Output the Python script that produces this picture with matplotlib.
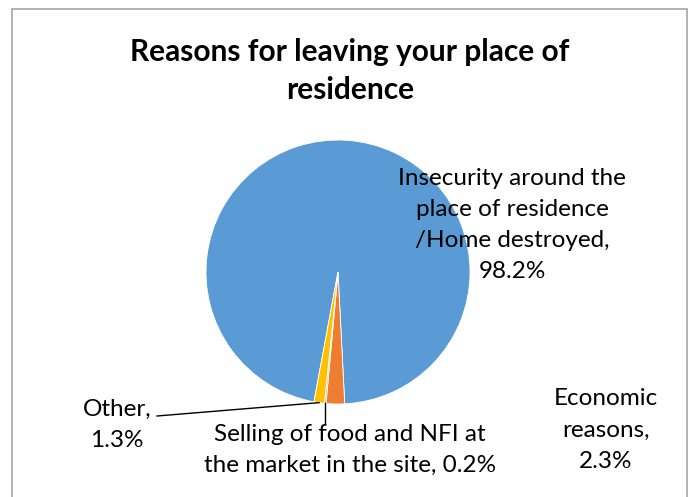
import numpy as np
import matplotlib.pyplot as plt
from matplotlib.patches import Rectangle

plt.rcParams['font.family'] = ['Lato', 'DejaVu Sans']

labels = ['Insecurity around the\nplace of residence\n/Home destroyed,\n98.2%',
          'Economic\nreasons,\n2.3%',
          'Selling of food and NFI at\nthe market in the site, 0.2%',
          'Other,\n1.3%']
values = [98.2, 2.3, 0.2, 1.3]
colors = ['#5B9BD5', '#ED7D31', '#A5A5A5', '#FFC000']

W, H = 689, 497
fig = plt.figure(figsize=(W / 100, H / 100), dpi=100)
ax = fig.add_axes([0, 0, 1, 1])

# chart frame
fig.patches.append(Rectangle((12 / W, -0.02), (687 - 12) / W, 1.02 - 9 / H,
                             transform=fig.transFigure, fill=False,
                             edgecolor='#A6A6A6', linewidth=1.2))

cx, cy, r = 338, H - 272, 132
wedges, _ = ax.pie(values, colors=colors, startangle=-100.5, counterclock=False,
                   center=(cx, cy), radius=r, frame=True,
                   wedgeprops=dict(edgecolor='white', linewidth=0.6))
ax.set_xlim(0, W)
ax.set_ylim(0, H)
ax.set_aspect('equal')
ax.axis('off')

ax.text(350, H - 71, 'Reasons for leaving your place of\nresidence', ha='center', va='center',
        fontsize=21.5, fontweight='bold', linespacing=1.45)

fs = 17.5
ls = 1.6
ax.text(512, H - 225, labels[0], ha='center', va='center', fontsize=fs, linespacing=ls)
ax.text(606, H - 430, labels[1], ha='center', va='center', fontsize=fs, linespacing=ls)
ax.text(350, H - 450, labels[2], ha='center', va='center', fontsize=fs, linespacing=ls)
ax.text(117, H - 425, labels[3], ha='center', va='center', fontsize=fs, linespacing=ls)

# leader lines
def rim(w):
    a = np.deg2rad((w.theta1 + w.theta2) / 2)
    return cx + r * np.cos(a), cy + r * np.sin(a)

ox, oy = rim(wedges[3])
ax.plot([157, ox], [H - 416, oy], color='black', linewidth=1)
sx, sy = rim(wedges[2])
ax.plot([sx, sx], [sy, H - 424], color='black', linewidth=1)

fig.savefig('out.png', dpi=100)
